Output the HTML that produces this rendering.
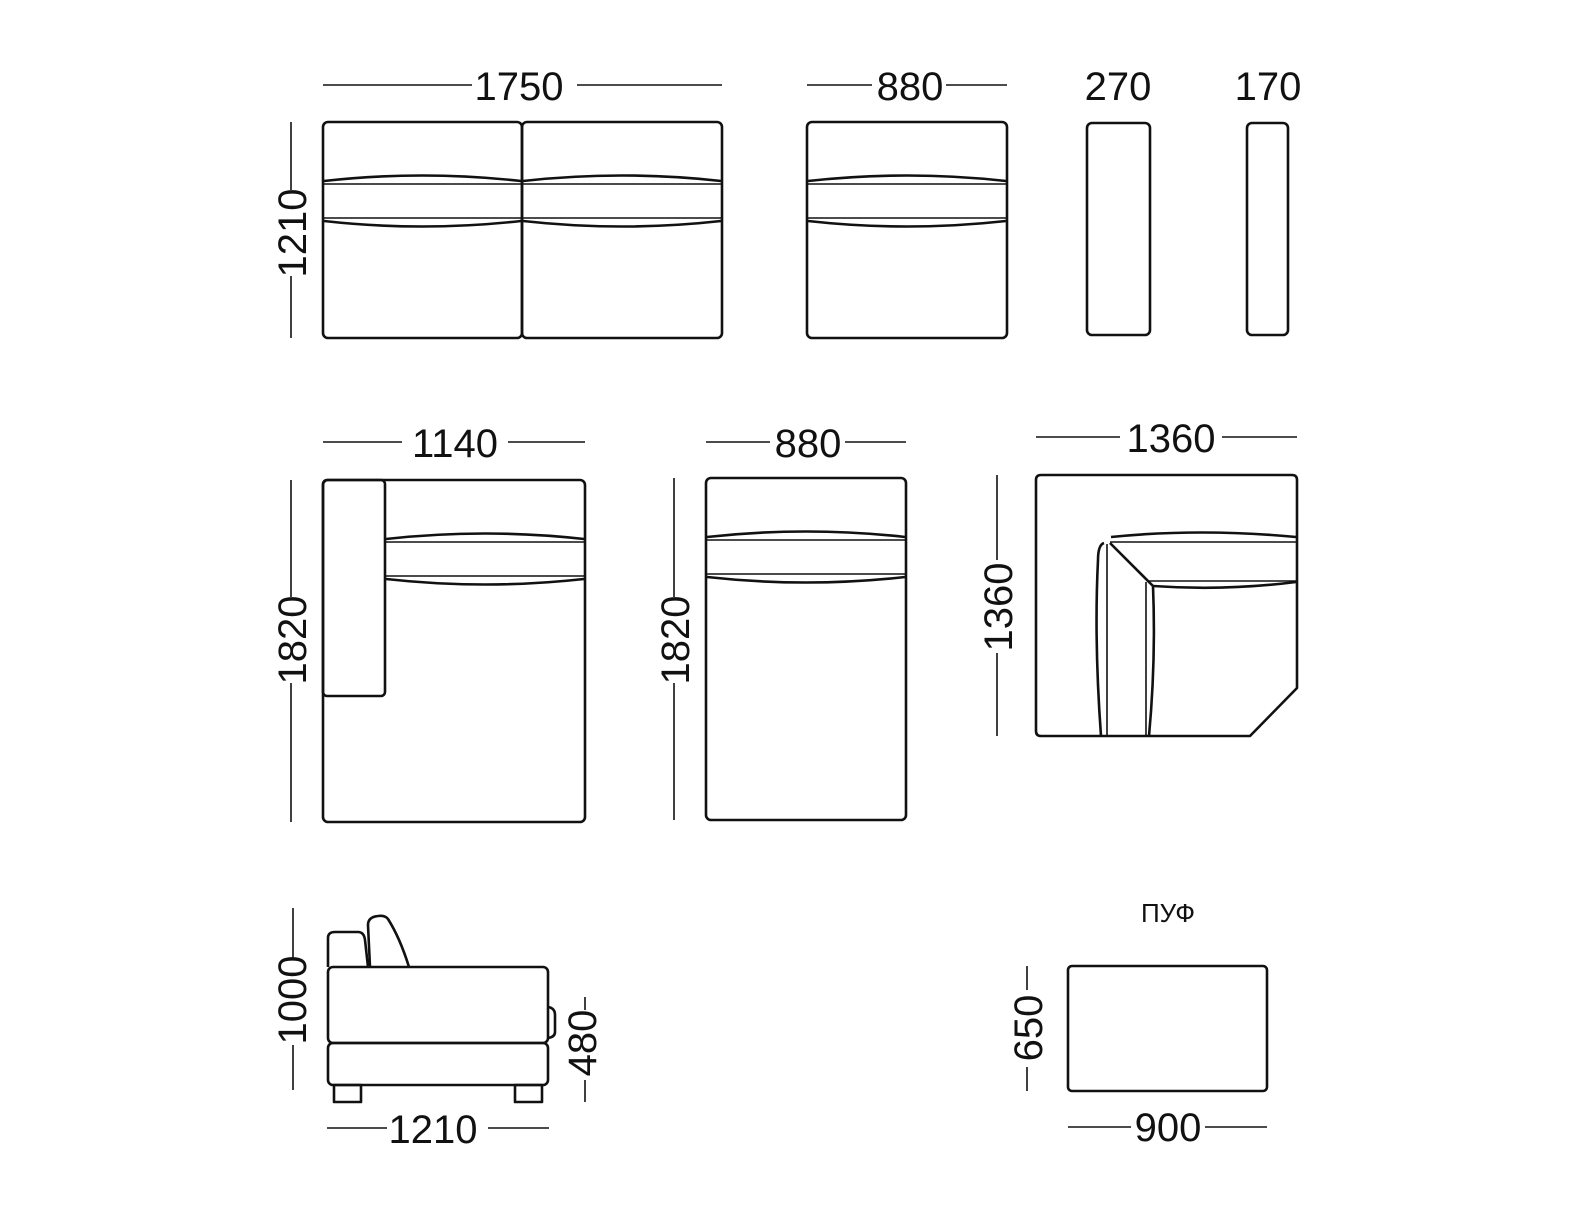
<!DOCTYPE html>
<html><head><meta charset="utf-8"><style>
html,body{margin:0;padding:0;background:#fff;}
svg{display:block;}
text{font-family:"Liberation Sans",Arial,sans-serif;fill:#111;}
</style></head><body>
<svg width="1584" height="1224" viewBox="0 0 1584 1224" xmlns="http://www.w3.org/2000/svg">
<g fill="none" stroke="#111" stroke-width="2.6" stroke-linejoin="round">
<rect x="323" y="122" width="199" height="216" rx="5"/>
<rect x="522" y="122" width="200" height="216" rx="5"/>
<path d="M324 181 Q422 170 521 181 M523 181 Q622 170 721 181"/>
<path d="M324 221 Q422 232 521 221 M523 221 Q622 232 721 221"/>
<path d="M324 184 H721 M324 218 H721" stroke-width="1.6"/>
<rect x="807" y="122" width="200" height="216" rx="5"/>
<path d="M808 181 Q907 170 1006 181 M808 221 Q907 232 1006 221"/>
<path d="M808 184 H1006 M808 218 H1006" stroke-width="1.6"/>
<rect x="1087" y="123" width="63" height="212" rx="5"/>
<rect x="1247" y="123" width="41" height="212" rx="5"/>
<rect x="323" y="480" width="262" height="342" rx="5"/>
<rect x="323" y="480" width="62" height="216" rx="4"/>
<path d="M386 539 Q485 528 584 539 M386 579 Q485 590 584 579"/>
<path d="M386 542 H584 M386 576 H584" stroke-width="1.6"/>
<rect x="706" y="478" width="200" height="342" rx="5"/>
<path d="M707 537 Q806 526 905 537 M707 577 Q806 588 905 577"/>
<path d="M707 540 H905 M707 574 H905" stroke-width="1.6"/>
<path d="M1041 475 H1292 Q1297 475 1297 480 V688 L1250 736 H1041 Q1036 736 1036 731 V480 Q1036 475 1041 475 Z"/>
<path d="M1111 537 Q1200 528 1296 537"/>
<path d="M1110 542 H1296" stroke-width="1.6"/>
<path d="M1110 543 L1153 586"/>
<path d="M1153 586 Q1225 591 1296 582"/>
<path d="M1147 581 H1296" stroke-width="1.6"/>
<path d="M1104 543 Q1098 545 1098 560 Q1094 640 1101 736"/>
<path d="M1107 544 V736" stroke-width="1.6"/>
<path d="M1146 582 V736" stroke-width="1.6"/>
<path d="M1153 586 Q1156 660 1149 736"/>
<path d="M328 967 V938 Q328 932 335 932 H358 Q364 932 365 940 L368 967"/>
<path d="M370 967 L368 925 Q368 917 378 916 Q385 915 388 919 Q400 938 409 967"/>
<rect x="328" y="967" width="220" height="76" rx="5"/>
<path d="M548 1007 Q555 1008 555 1015 V1032 Q555 1037 548 1038"/>
<rect x="328" y="1043" width="220" height="42" rx="5"/>
<rect x="334" y="1085" width="27" height="17"/>
<rect x="515" y="1085" width="27" height="17"/>
<rect x="1068" y="966" width="199" height="125" rx="4"/>
</g>
<g stroke="#111" stroke-width="1.6">
<path d="M323 85 H472 M577 85 H722"/>
<path d="M291 122 V190 M291 276 V338"/>
<path d="M807 85 H872 M946 85 H1007"/>
<path d="M323 442 H402 M508 442 H585"/>
<path d="M291 480 V597 M291 683 V822"/>
<path d="M706 442 H770 M845 442 H906"/>
<path d="M674 478 V597 M674 683 V820"/>
<path d="M1036 437 H1120 M1222 437 H1297"/>
<path d="M997 475 V560 M997 653 V736"/>
<path d="M293 908 V958 M293 1045 V1090"/>
<path d="M585 997 V1010 M585 1080 V1102"/>
<path d="M327 1128 H387 M488 1128 H549"/>
<path d="M1027 966 V990 M1027 1067 V1091"/>
<path d="M1068 1127 H1131 M1205 1127 H1267"/>
</g>
<g font-size="40" text-anchor="middle">
<text x="519" y="100">1750</text>
<text x="910" y="100">880</text>
<text x="1118" y="100">270</text>
<text x="1268" y="100">170</text>
<text x="455" y="457">1140</text>
<text x="808" y="457">880</text>
<text x="1171" y="452">1360</text>
<text x="433" y="1143">1210</text>
<text x="1168" y="1141">900</text>
<text transform="translate(306,233) rotate(-90)">1210</text>
<text transform="translate(306,640) rotate(-90)">1820</text>
<text transform="translate(689,640) rotate(-90)">1820</text>
<text transform="translate(1012,607) rotate(-90)">1360</text>
<text transform="translate(306,1000) rotate(-90)">1000</text>
<text transform="translate(596,1043) rotate(-90)">480</text>
<text transform="translate(1042,1028) rotate(-90)">650</text>
</g>
<text x="1168" y="922" font-size="26" text-anchor="middle">ПУФ</text>
</svg>
</body></html>
